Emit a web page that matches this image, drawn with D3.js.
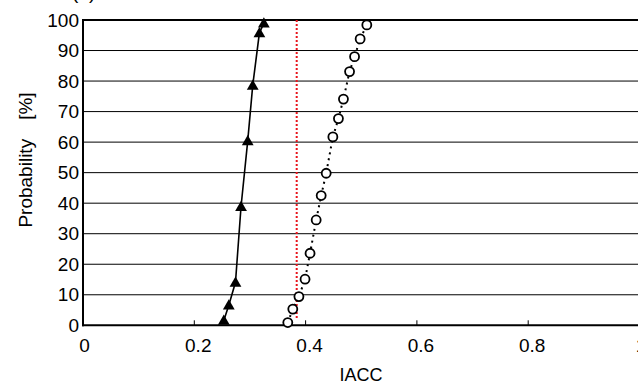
<!DOCTYPE html>
<html>
<head>
<meta charset="UTF-8" />
<title>IACC probability</title>
<script src="https://d3js.org/d3.v7.min.js"></script>
<style type="text/css">
body {
    margin: 0;
    background-color: #fff;
    font-family: "Liberation Sans", Arial, sans-serif;
}
svg text {
    fill: #000;
}
.grid line {
    stroke: #000;
    stroke-width: 1px;
}
</style>
</head>
<body>
<svg width="638" height="387" id="svg1"></svg>
<script type="text/javascript">
// cumulative probability [%] vs IACC
var triIacc = [0.253, 0.262, 0.274, 0.284, 0.296, 0.305, 0.317, 0.325];
var triProb = [1.6, 6.6, 14.1, 38.9, 60.4, 78.6, 95.8, 99.0];

var circIacc = [0.368, 0.377, 0.388, 0.399, 0.408, 0.419, 0.428, 0.437, 0.449, 0.459, 0.468, 0.479, 0.488, 0.498, 0.510];
var circProb = [0.9, 5.3, 9.4, 15.1, 23.6, 34.5, 42.5, 49.8, 61.7, 67.7, 74.1, 83.1, 88.0, 93.8, 98.4];

var threshold = 0.384;

var xTicks = [0, 0.2, 0.4, 0.6, 0.8, 1];
var xTickLabels = ['0', '0.2', '0.4', '0.6', '0.8', '1'];
var yTicks = [0, 10, 20, 30, 40, 50, 60, 70, 80, 90, 100];

var svg = d3.select('#svg1');
var x = d3.scaleLinear().domain([0, 1]).range([83, 639.5]);
var y = d3.scaleLinear().domain([0, 100]).range([325.3, 20]);

// horizontal grid
svg.append('g').attr('class', 'grid').selectAll('line').data(yTicks.slice(1, -1))
    .enter().append('line')
    .attr('x1', x(0)).attr('x2', 638)
    .attr('y1', function(d) { return y(d); })
    .attr('y2', function(d) { return y(d); });

// top border (100 line) is thicker
svg.append('line').attr('x1', x(0)).attr('x2', 638)
    .attr('y1', y(100)).attr('y2', y(100))
    .attr('stroke', '#000').attr('stroke-width', 2);

// x axis
svg.append('line').attr('x1', x(0) - 1).attr('x2', 638)
    .attr('y1', y(0)).attr('y2', y(0))
    .attr('stroke', '#000').attr('stroke-width', 2);
svg.append('g').selectAll('line').data(xTicks.slice(1))
    .enter().append('line')
    .attr('x1', function(d) { return x(d); })
    .attr('x2', function(d) { return x(d); })
    .attr('y1', y(0)).attr('y2', y(0) - 5)
    .attr('stroke', '#000').attr('stroke-width', 1);

// y axis
svg.append('line').attr('x1', x(0)).attr('x2', x(0))
    .attr('y1', y(100) - 1).attr('y2', y(0) + 1)
    .attr('stroke', '#000').attr('stroke-width', 2);

// tick labels
svg.append('g').selectAll('text').data(yTicks)
    .enter().append('text')
    .attr('x', 79)
    .attr('y', function(d) { return y(d); })
    .attr('dy', '0.35em')
    .attr('text-anchor', 'end')
    .attr('font-size', 19)
    .text(function(d) { return d; });

svg.append('g').selectAll('text').data(xTicks)
    .enter().append('text')
    .attr('x', function(d) { return x(d); })
    .attr('y', 351.5)
    .attr('text-anchor', 'middle')
    .attr('font-size', 19)
    .text(function(d, i) { return xTickLabels[i]; })
    .attr('dx', function() { return this.getComputedTextLength() * 0.15; });

// axis titles
svg.append('text')
    .attr('x', 361).attr('y', 381)
    .attr('text-anchor', 'middle')
    .attr('font-size', 18)
    .text('IACC');

svg.append('text')
    .attr('transform', 'translate(32,160) rotate(-90)')
    .attr('text-anchor', 'middle')
    .attr('font-size', 19)
    .text('Probability\u3000[%]');

svg.append('text')
    .attr('x', 72).attr('y', -1.5)
    .attr('font-size', 19)
    .text('(a)');

// red threshold line
svg.append('line')
    .attr('x1', x(threshold)).attr('x2', x(threshold))
    .attr('y1', y(100)).attr('y2', y(2))
    .attr('stroke', '#e8141b').attr('stroke-width', 2)
    .attr('stroke-dasharray', '2,2');

// circles series (dotted)
var circPts = circIacc.map(function(v, i) { return [v, circProb[i]]; });
var triPts = triIacc.map(function(v, i) { return [v, triProb[i]]; });

var line = d3.line()
    .x(function(d) { return x(d[0]); })
    .y(function(d) { return y(d[1]); });

svg.append('path').datum(circPts)
    .attr('d', line)
    .attr('fill', 'none')
    .attr('stroke', '#000').attr('stroke-width', 2)
    .attr('stroke-dasharray', '2,4');

svg.append('g').selectAll('circle').data(circPts)
    .enter().append('circle')
    .attr('cx', function(d) { return x(d[0]); })
    .attr('cy', function(d) { return y(d[1]); })
    .attr('r', 4.5)
    .attr('fill', '#fff')
    .attr('stroke', '#000').attr('stroke-width', 1.8);

// triangles series (solid)
svg.append('path').datum(triPts)
    .attr('d', line)
    .attr('fill', 'none')
    .attr('stroke', '#000').attr('stroke-width', 1.6);

svg.append('g').selectAll('path').data(triPts)
    .enter().append('path')
    .attr('d', d3.symbol().type(d3.symbolTriangle).size(60))
    .attr('transform', function(d) { return 'translate(' + x(d[0]) + ',' + (y(d[1]) + 1) + ')'; })
    .attr('fill', '#000');
</script>
</body>
</html>
